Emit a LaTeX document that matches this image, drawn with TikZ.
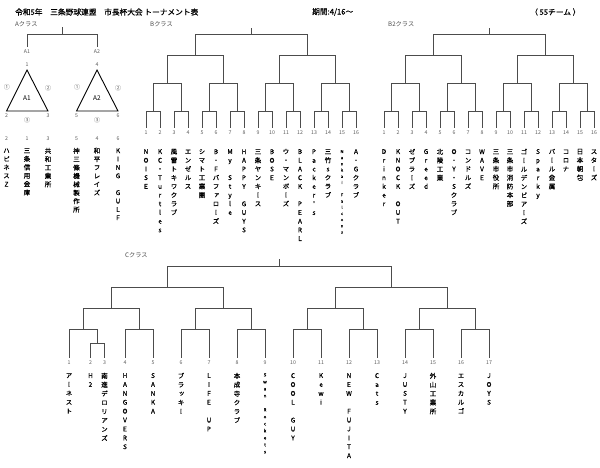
\documentclass[tikz,border=0pt]{standalone}
\usepackage{fontspec}
\setmainfont{Noto Sans CJK JP}
\newfontfamily\vjp[RawFeature=+vert,FakeBold=0.5]{Noto Sans CJK JP}
\newfontfamily\hjp[FakeBold=0.5]{Noto Sans CJK JP}
\usetikzlibrary{positioning}
\makeatletter
\def\vn@loop#1{\ifx#1\@nil\else\hbox to0pt{\hss\vrule height.8em width0pt\relax#1\hss}\expandafter\vn@loop\fi}
\newcommand{\vname}[1]{\vtop{\lineskiplimit=-\maxdimen\expandafter\vn@loop#1\@nil}}
\makeatother
\newcommand{\Bracket}[8]{%
\coordinate (#1-t) at ({#2+7.5*#3},#4);\coordinate (#1-r) at ({#2+7.5*#3},#5);\draw[brk] (#1-t)--(#1-r);
\foreach \m in {1,2}{\coordinate (#1-b\m) at ({#2+#3*(8*\m-4.5)},#6);\draw[brk] (#1-r) -| (#1-b\m);}
\foreach \k in {1,...,4}{\pgfmathtruncatemacro\p{ceil(\k/2)}\coordinate (#1-c\k) at ({#2+#3*(4*\k-2.5)},#7);\draw[brk] (#1-b\p) -| (#1-c\k);}
\foreach \j in {1,...,8}{\pgfmathtruncatemacro\p{ceil(\j/2)}\coordinate (#1-d\j) at ({#2+#3*(2*\j-1.5)},#8);\draw[brk] (#1-c\p) -| (#1-d\j);}}
\tikzset{brk/.style={draw=black!70,line width=.9pt},tri/.style={draw=black,line width=.9pt}}
\tikzset{num/.style={font=\fontsize{5.2}{6}\selectfont,text=black!65,inner sep=2.5pt},circ/.style={font=\fontsize{6}{7}\selectfont,text=black!65,inner sep=0pt}}
\tikzset{hdr/.style={font=\hjp\fontsize{7.7}{9}\selectfont,anchor=west,inner sep=0pt},cls/.style={font=\fontsize{6.2}{7}\selectfont,text=black!70,anchor=west,inner sep=0pt}}
\tikzset{aname/.style={font=\vjp\fontsize{6.5}{8.4}\selectfont,inner sep=0pt},bname/.style={font=\vjp\fontsize{6.5}{8.7}\selectfont,inner sep=0pt}}
\tikzset{cname/.style={font=\vjp\fontsize{6.5}{8.9}\selectfont,inner sep=0pt},tname/.style={font=\vjp\fontsize{4}{6.2}\selectfont,inner sep=0pt}}
\begin{document}
\begin{tikzpicture}[x=1pt,y=-1pt]
\path[use as bounding box] (0,0) rectangle (600,467);
\node[hdr] (title) at (15,12) {令和5年　三条野球連盟　市長杯大会 トーナメント表};
\node[hdr] (term) at (312,12) {期間:4/16～};
\node[hdr] (count) at (530,12) {（ 55チーム ）};
\node[cls] (A-lbl) at (15,24) {Aクラス};\node[cls] (B-lbl) at (150,24) {Bクラス};
\node[cls] (B2-lbl) at (388,24) {B2クラス};\node[cls] (C-lbl) at (125,255) {Cクラス};
% A class
\coordinate (A-t) at (62,27);\coordinate (A-r) at (62,34);
\node[num] (A-g1) at (27,52) {A1};\node[num] (A-g2) at (97,52) {A2};
\draw[brk] (A-t)--(A-r);\draw[brk] (A-r) -| (A-g1);\draw[brk] (A-r) -| (A-g2);
\foreach \g/\x/\a/\b/\c in {1/27/1/2/3,2/97/4/5/6}{
\coordinate (A\g-a) at (\x,70);\coordinate (A\g-b) at (\x-20.5,111);\coordinate (A\g-c) at (\x+21,111);
\draw[tri] (A\g-a)--(A\g-b)--(A\g-c)--cycle;
\node[num] (A\g-na) at (\x,64.5) {\a};\node[num] (A\g-nb) at (\x-20.5,116) {\b};\node[num] (A\g-nc) at (\x+21,116) {\c};
\node[circ] (A\g-s1) at (\x-20,87) {①};\node[circ] (A\g-s2) at (\x+21,88) {②};\node[circ] (A\g-s3) at (\x,120) {③};
\node[font=\fontsize{6.5}{8}\selectfont] (A\g-in) at (\x,98) {A\g};}
\foreach \i/\x/\t in {2/6.5/ハピネスZ,1/27/三条信用金庫,3/48/共和工業所,5/76.5/神三條機械製作所,4/97/和平フレイズ,6/118/KING~GULF}{
\node[num] (A-n\i) at (\x,139) {\i};\node[aname,below=4pt of A-n\i] (A-m\i) {\vname{\t}};}
% B class
\Bracket{B}{146}{14}{28}{34}{55}{83}{111}
\foreach \i in {1,...,16}{\pgfmathtruncatemacro\p{ceil(\i/2)}
\node[num] (B-n\i) at ({132+14*\i},133) {\i};\draw[brk] (B-d\p) -| (B-n\i);}
\foreach \i/\t in {1/NOISE,2/KC・Turtles,3/風雷トキワクラブ,4/エンゼルス,5/シマト工業團,6/B・Fバファローズ,7/My~Style,8/HAPPY~GUYS,9/三条ヤンキース,10/BOSE,11/ウ・マンボーズ,12/BLACK~PEARL,13/Packer's,14/三竹sクラブ,16/A・Gクラブ}{
\node[bname,below=11pt of B-n\i] (B-m\i) {\vname{\t}};}
\node[tname,below=12pt of B-n15] (B-m15) {\vname{Nankai~Falcons}};
% B2 class
\Bracket{B2}{384}{14}{28}{34}{55}{83}{111}
\foreach \i in {1,...,16}{\pgfmathtruncatemacro\p{ceil(\i/2)}
\node[num] (B2-n\i) at ({370+14*\i},133) {\i};\draw[brk] (B2-d\p) -| (B2-n\i);}
\foreach \i/\t in {1/Drinker,2/KNOCK~OUT,3/ゼブラーズ,4/Greed,5/北陵工業,6/O・Y・Sクラブ,7/コンドルズ,8/WAVE,9/三条市役所,10/三条市消防本部,11/ゴールデンビアーズ,12/Sparky,13/パール金属,14/コロナ,15/日本朝包,16/スターズ}{
\node[bname,below=11pt of B2-n\i] (B2-m\i) {\vname{\t}};}
% C class
\Bracket{C}{69}{28}{259}{266}{287}{308}{329}
\coordinate (C-s) at (97,343);\draw[brk] (C-d1) -| (C-s);
\foreach \i in {1,...,17}{\pgfmathsetmacro\x{\i==1 ? 69 : (\i==2 ? 90.5 : (\i==3 ? 104.5 : 69+28*(\i-2)))}
\node[num] (C-n\i) at (\x,363) {\i};}
\draw[brk] (C-d1) -| (C-n1);\draw[brk] (C-s) -| (C-n2);\draw[brk] (C-s) -| (C-n3);
\foreach \i in {4,...,17}{\pgfmathtruncatemacro\p{ceil((\i-1)/2)}\draw[brk] (C-d\p) -| (C-n\i);}
\foreach \i/\t in {1/アーネスト,2/H2,3/南進デロリアンズ,4/HANGOVERS,5/SANKA,6/ブラッキー,7/LIFE~UP,8/本成寺クラブ,10/COOL~GUY,11/Kewi,12/NEW~FUJITA,13/Cats,14/JUSTY,15/外山工業所,16/エスカルゴ,17/JOYS}{
\node[cname,below=5pt of C-n\i] (C-m\i) {\vname{\t}};}
\node[tname,font=\vjp\fontsize{4.5}{7}\selectfont,below=5pt of C-n9] (C-m9) {\vname{Swan~Rockets}};
\end{tikzpicture}
\end{document}
